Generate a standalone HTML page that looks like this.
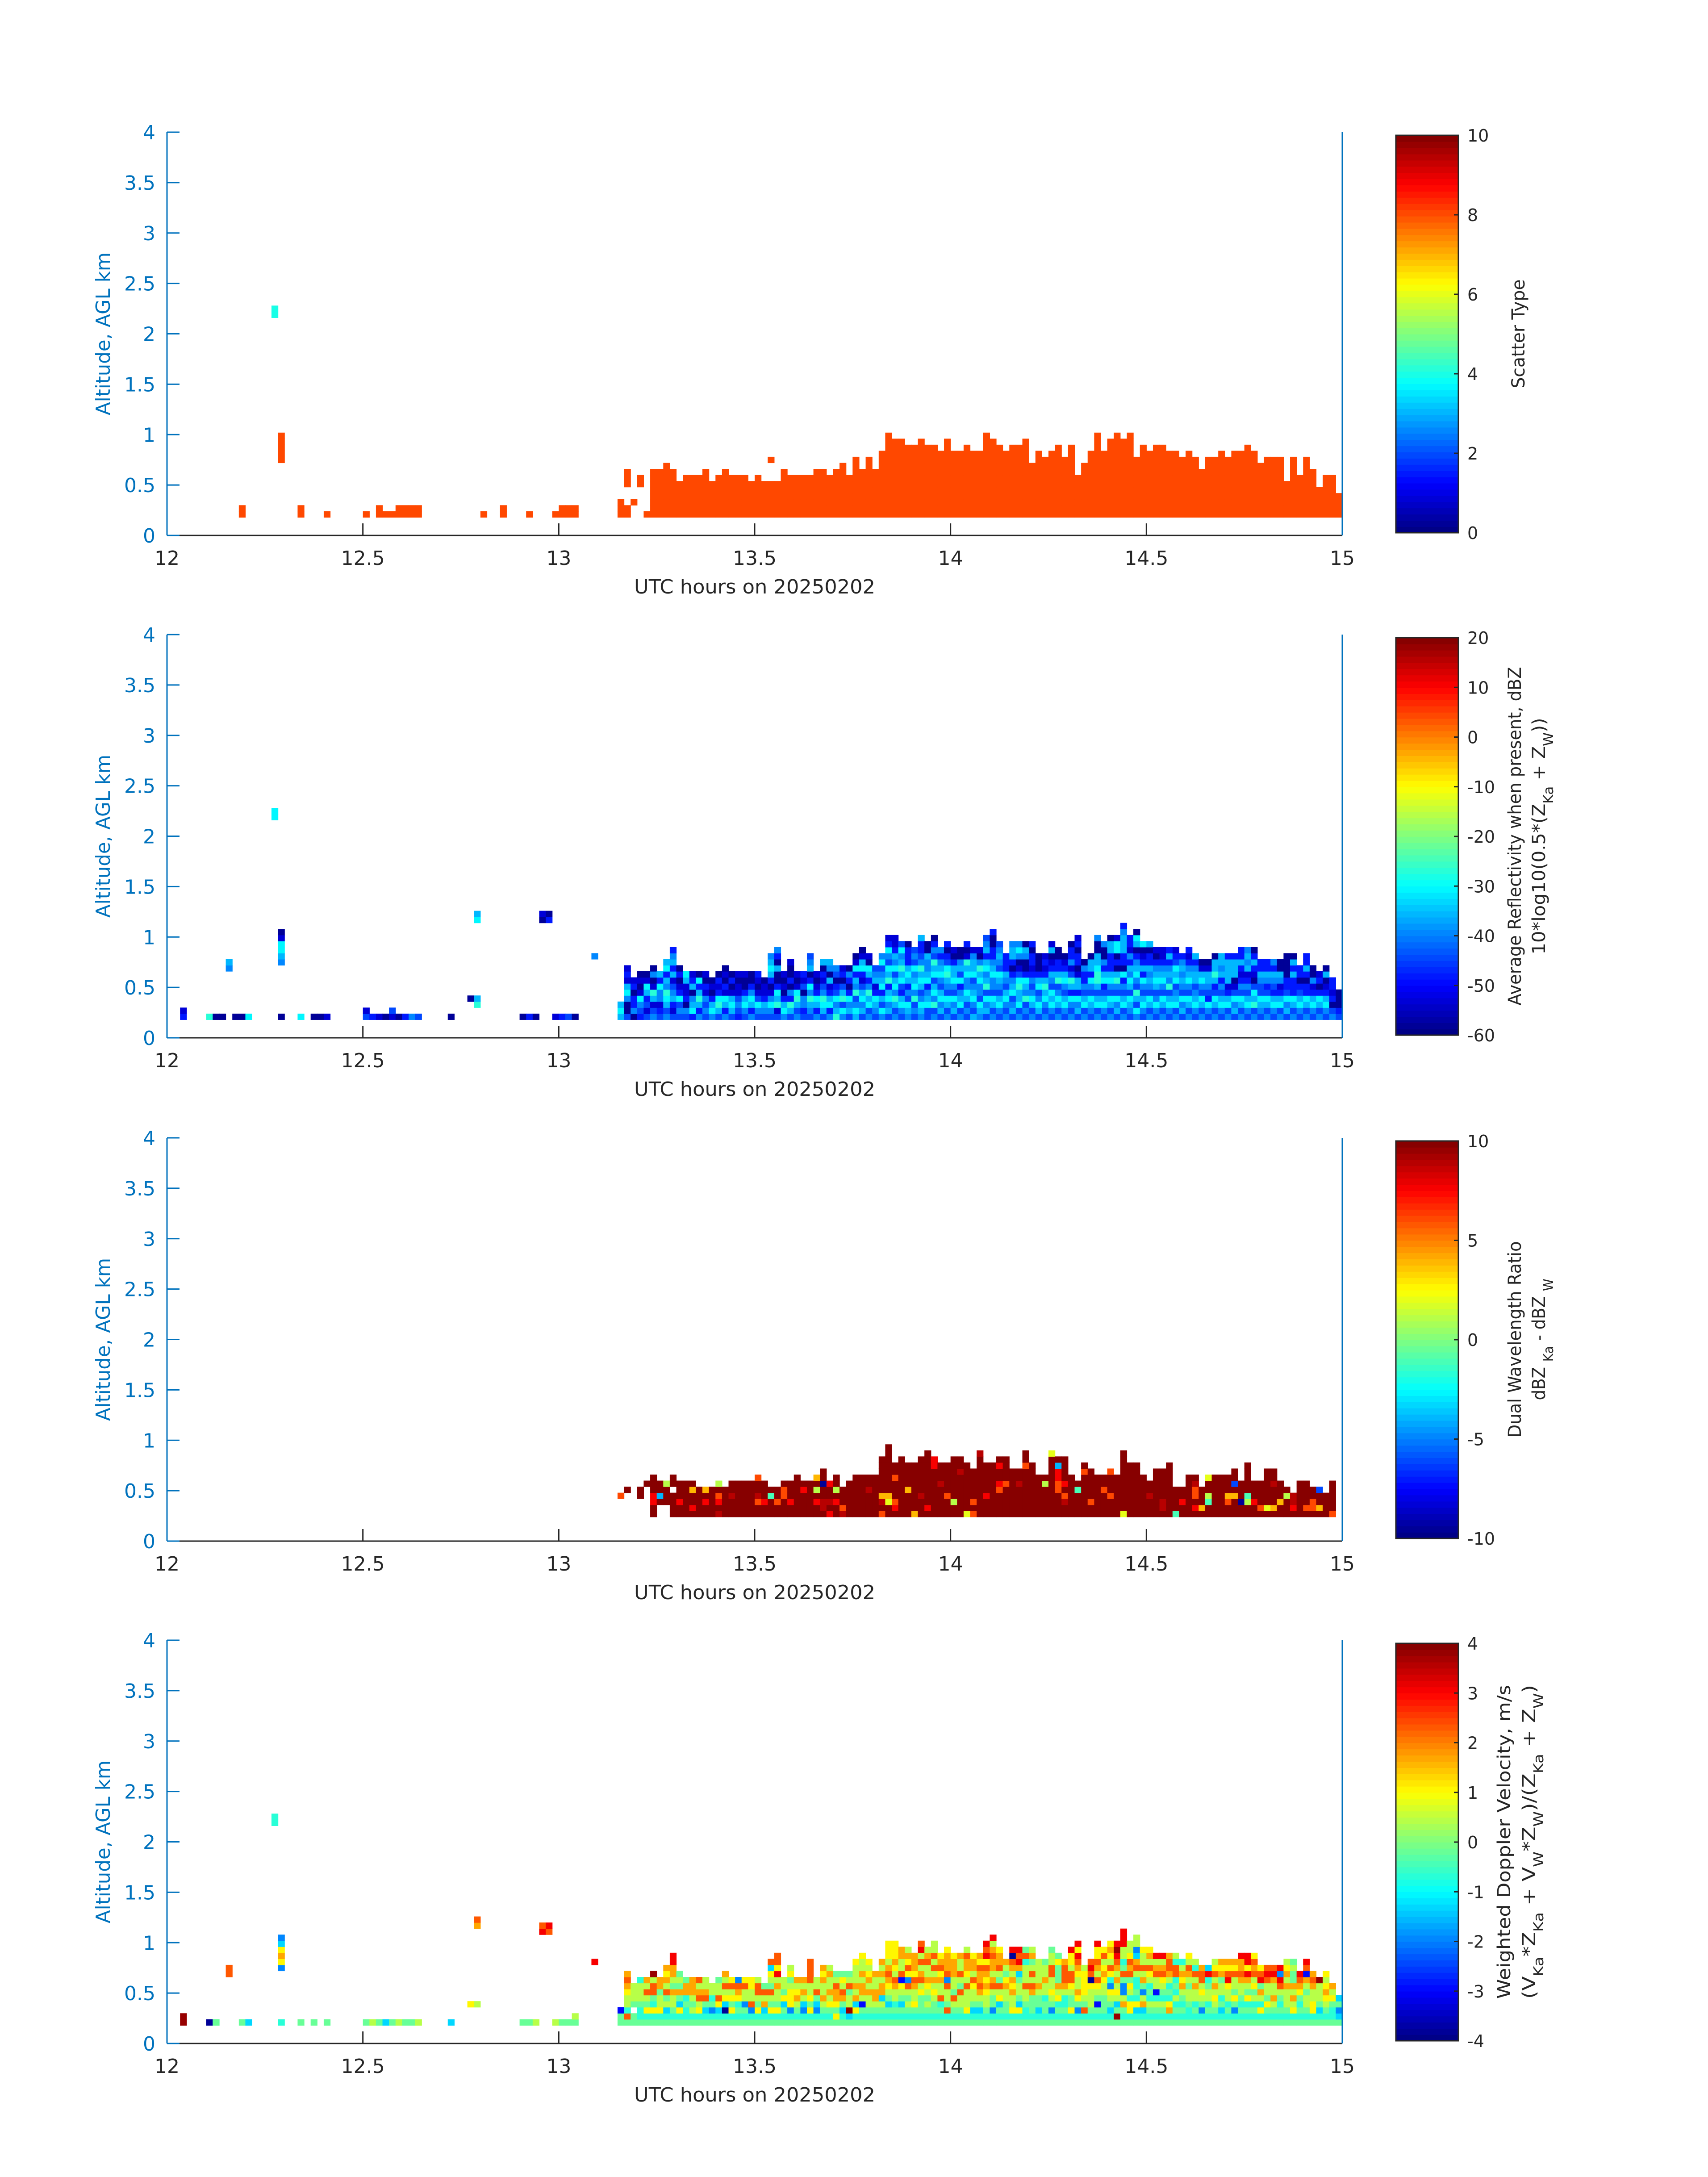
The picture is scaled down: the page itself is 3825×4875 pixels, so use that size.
<!DOCTYPE html>
<html><head><meta charset="utf-8"><title>Radar panels</title>
<style>html,body{margin:0;padding:0;background:#fff}svg{display:block}text{font-family:"DejaVu Sans","Liberation Sans",sans-serif}</style>
</head><body>
<svg id="fig" xmlns="http://www.w3.org/2000/svg" width="3825" height="4875" viewBox="0 0 3825 4875">
<rect width="3825" height="4875" fill="#fff"/>
</svg>
<script>
// ---------- data ----------
const xTicks = [12, 12.5, 13, 13.5, 14, 14.5, 15];
const xTickLabels = ["12", "12.5", "13", "13.5", "14", "14.5", "15"];
const yTicks = [0, 0.5, 1, 1.5, 2, 2.5, 3, 3.5, 4];
const yTickLabels = ["0", "0.5", "1", "1.5", "2", "2.5", "3", "3.5", "4"];
const binKm = 0.06;
const firstDenseMinute = 69;

// Panel 1: scatter type heights (bins above 0.18 km) for minutes 74..179
const heights1 = [8,8,9,8,6,7,7,7,8,6,7,8,7,7,7,6,7,6,6,6,8,7,7,7,7,8,8,7,8,9,7,10,8,10,8,11,14,13,13,12,12,13,12,12,11,13,11,11,12,11,11,14,13,12,11,12,12,13,9,11,10,11,12,10,12,7,9,11,14,11,13,14,13,14,10,12,11,12,12,11,11,10,11,10,8,10,10,11,10,11,11,12,11,9,10,10,10,6,10,7,10,8,5,7,7,4];
const heightsStart1 = 74;
const sparse1 = [[11,0,"oo"],[16,33,"cc"],[17,9,"ooooo"],[20,0,"oo"],[24,0,"o"],[30,0,"o"],[32,0,"oo"],[33,0,"o"],[34,0,"o"],[35,0,"oo"],[36,0,"oo"],[37,0,"oo"],[38,0,"oo"],[48,0,"o"],[51,0,"oo"],[55,0,"o"],[59,0,"o"],[60,0,"oo"],[61,0,"oo"],[62,0,"oo"],[69,0,"ooo"],[70,0,"oo...ooo"],[71,2,"o"],[72,5,"oo"],[73,0,"o"],[92,9,"o"]];
const codes1 = {o: 8, c: 4};

// Panel 2: reflectivity columns (minutes 69..179, bottom->top)
const cols2 = ("LcL BnnlcLdbd nlbbnbd bBlcdndn BdBbLcdn lBdLtdnln BbdllcbL lBLctlLbcL BdbLlBdLbLlb BlBcbdnbn BlnbddLc bcLlnLbd lbLtLbcn BlBldbnd lcLbndn BLtcbdbn lbLcdbndn BLcLdnbn bBlBddnd BlcLbnnd lbLclbnn BlcBdndb BlLbddn BlcldnbLcLl BdtLcbnnLnbl lcLbndnd BLtblnbnnd lBLtcdnd BbllnBdb BlLtlcbnLlB lbLcbdnd BLctlBdbnL lbcLbdLnlL tLlcBbnBl lcBtLBnbd BLlcbnbln LclBtlLbcdn BLlcLBdbcLdn lBcLtlbLcnd BlLcbdLlB lcBLbcLlBcl BLlcLbtLcBlcbd lBLtlcLBclLbdd BlcLbBcLtLlcB lLcBlbLcLbbbn BlBtlcLlcBlB lLclBLcLtlBbbL BBcLlbcLllLnn lBtlcLBcLtBlbn BLlcLBlcLlbl lBLcBlLtcBbnb BLlcBlcLLbnd lBcLlbcBLlnn BlBLcllcLtdnb LBlcLlBcLLld lLcBllcLtlnd BLlcBtLlcLbLlB lBLcBllcLlbbnnb BlcLBlLcBlLlB lBlcLBlLbbb BLlBcLlbnbLLl lBcLLtcBdnlcl BlBtlLcbnnlLn lBLclBlbdbbnb BLclBcLbnnn lBlcLtLbdbd BlcLcBlLbdnLd lBLclBtLbbnn BlcLBlcLbdn lBlcbLtBdlbbn BLlcbLLdnbbnbd lBcLBlbbln BlLcBlcbLLn lBcLBLttcLLnnl BlcLBbcLblnnl lBLcBlcLbbbLLn BLlcBltLnbnccd lBcLBlbcnbbLLLlb BlLcBLclLbldbb lcBLtBlcLlbnLcn BlcLBlcbLbdnc lBLcBlLlLbbnL BlclBLcLlbnd lBLcBlcLlbdd BlcLBtlLlbLb lBcLlBcLcBbd BLlcBlLlLlb lBLcBlcLlbdb BlcLlBLLlbL lBLcBlcLdn BlcbBlLLdn lBLcBbLtLLn BlcLBlbLlLL lBcLbdLLLLb BLlcBdnLLLb lBLcBlbdbLbb BlcLBlbdLlLl lBtLcBndbLbn BlLcBBlLbb lBLcBblLbb BlcLbBlLbl lBcLbdlLnn BLlcBbbnnnn lBLcbbbLbLn BlcLBbnbb lBLcbbnbLbb BlcLbdlnn lBLcbnbd BlcLbdnLn lBnbdbb Bbnnn").split(" ");
const sparse2 = [[2,0,"bd"],[6,0,"t"],[7,0,"n"],[8,0,"n"],[9,8,"lL"],[10,0,"n"],[11,0,"n"],[12,0,"c"],[16,33,"cc"],[17,0,"n"],[17,9,"lLccdn"],[20,0,"c"],[22,0,"n"],[23,0,"n"],[24,0,"d"],[30,0,"Bd"],[31,0,"b"],[32,0,"d"],[33,0,"n"],[34,0,"dB"],[35,0,"n"],[36,0,"b"],[37,0,"l"],[38,0,"B"],[43,0,"n"],[46,3,"n"],[47,2,"tL"],[47,16,"cL"],[54,0,"n"],[55,0,"b"],[56,0,"n"],[57,16,"nd"],[58,16,"bn"],[59,0,"d"],[60,0,"b"],[61,0,"B"],[62,0,"n"],[65,10,"l"]];
const codes2 = {n:-58, d:-53, b:-48, B:-44, l:-40, L:-36, c:-31, t:-27, g:-23};

// Panel 3: dual wavelength ratio columns (minutes 69..179, from 0.24 km)
const cols3 = ("...O ....D . ...DD .....D DDrrDDD ..DcDD ..DDDy DDDD.DD DDrDDD DDDDDD DrDDoD DDDDD DDrDo DDDDD dDrODy DDDDD DDDdDD DDDDDD DDDDDD DDDDDD DDOdDDO DDrDDD DDDgD DDODD DDDOOD DDrDDD DDDDDDD DDDDrD DDDDDD DDrDyDo DddDDNDD rDdDDr DDrDyDD dODDD DDDDDD DDDDDDD DDDDDDD DDDDdDD DDDDDDD ODdoDDDDDD DDYoDDDDDDDD DrODDDODD DDDDDDDDDD DDDDoDDDD oDDDDDDDD DDDdDDDDDD DrDDDDDDDDD DDDDDDDDrr DDDDDdDDD DDDODDDDD DDyDDDDDDD DDDDDDDdDD YDDDDDDDD ODODDDDD DDDDDDDDDDd DDDrDDDDD DDDDDDDDD DDDDOrDDrD DDDDDODDDD DDDDDDDD DDDDDdDD DDDDDDDDODD DDDDDDDDD DDDDDDD DDDDDyD DDDDDDDDDDY DDDDOOrrcD DDdODrDDDD DDDDDDD DDDDgD DDDDDDDOD DDODDDDD DDDDDDD DDDDODD DDDODDDO DDDDDDD YDDDDDDDDDD DDDDDDDDD DDDDDDDDD DDDDDDD DDDdDD DDDDDDDD DddDDDDD DDDDDDDDD gDDDD DDrDD DDDDDDD DrDOOdD DoDDD DDgyDDY DDDDDDD DDDDDDD DDOoDDD DDDoDLDD DDNDDD DDygDDDDD DDrDDD DODDDD DYDDDDDD DoDDDdDD DDoDDD DDDyD Drdd DDDDDD DODDDD DOODD DoDDL DDDD ODDDDD").split(" ");
const codes3 = {D:10, d:8.8, r:7.5, O:6, o:4, Y:2, y:1, g:-1, c:-4, L:-6, N:-9.5};

// Panel 4: weighted doppler velocity columns (minutes 69..179)
const cols4 = ("ggb gOtyyYoOo gg.gyyy gttgyyyt gtYgyOyo gtYtgOOyR gtYyygoo gtcygOyoYo gtgyyogyoorr gtYcgogyg gttgtoog gtygyooo gtYyOoyO gtcgOoyy gtlgtyy gtcYOyyg gtNcYyOyo gtYgYyOY gtgtYoOl gtglyyOY gtlOyyYY gtYgyOOy gtcoyOg gtYgyOgyYcO gtYgyyoyrYOO gtgcYgyy gtlYYYygYy gtgyoYyo gtlcyoyo gtYgYyyOOOO gtlcgOyy gtgyoyyoYo gtgYyoyyoy gYgYooOyg gtcgoOyYg gcRyygOyg gtYcoyoyyyY gtgbyooyoyyY gtgyyoyoYyY gtgyooyyo gtgycooyoyo gtgcgyYoOoyYYY gtgtyyoOyYoYYY gtgcgyYbOyyoo gtgygyOlYOYoy gtgYyyoOYooo gtgggYyOoyOyrO gtgygyYoyyOoy gtggyYyoyOyOyy gtgtOyyoYOoY gtOgyyOlOoooY gtgyOgyyoooY gtgyyOgyOyyo gtYyyyOyYooOy gtcgyyYOyooY gtcgyoOooOYo gtgyyYoYoOYrOr gtlggyOoyooOoyr gtgcYyOgyOooY gtggyyoYgyo gtYyyoYoyoONr gtYcgyygcorOr gttgyyOyyytOg gtgggoOyOygoy gtcggyoyyyy gtggtyyoyyg gtlgyYyyOOyyg gtgtYyogggYg gtgttyoOOOo gtYggyYOOyYYr gtlgYoyyYoOrYr gtOgyYYYYy gtgyyyYNOrO gtgbgyYOyoOYYr gtgggyyYoYyOY gtcgyYltYOyYoY gRgcyYyoyoOrRr gtgoyllgOgtyyrrr gtYYtyYgOoOYyy gtcYtgttyOoclyy gtcoylgoyOyyY gtgytgtyYOyoY gtgytbyyOoyr gtgytgyYOoyr gtoYtgtyoOOo gtgtytgtOOty gtgtgyoYoyt gttgyygyoOyY gtgtyyoyOty gtlgyYyOOo gtgtyygtrc gtgyYyoyOYy gtcgtyygoYo gtgtyyYrOYo gtlgYgyyOYo gtgtgyyoOoor gtgtYgyorYrr gtgtygYyOoOY gtYtyogrOY gtgYgyyOrO gtgyoyyorO gtgtgyOrlr gtgyyyoyoYy gtYyoyoggyg gtgtgYoOr gtgyygyobOr gtYYyyoOo gtcgyyyR gtgyYoYyY gttgYyo gclgc").split(" ");
const sparse4 = [[2,0,"RR"],[6,0,"N"],[7,0,"t"],[7,0,"g"],[9,8,"OO"],[11,0,"g"],[12,0,"c"],[16,33,"tt"],[17,0,"t"],[17,9,"lYoYcl"],[20,0,"g"],[22,0,"g"],[24,0,"g"],[30,0,"g"],[31,0,"y"],[32,0,"g"],[33,0,"c"],[34,0,"g"],[35,0,"y"],[36,0,"g"],[37,0,"g"],[38,0,"y"],[43,0,"c"],[46,3,"Y"],[47,3,"y"],[47,16,"oO"],[54,0,"g"],[55,0,"g"],[56,0,"y"],[57,15,"rO"],[58,15,"Or"],[59,0,"y"],[60,0,"g"],[61,0,"g"],[62,0,"gy"],[65,10,"r"]];
const codes4 = {N:-3.8, b:-3, l:-2, c:-1.3, t:-0.7, g:-0.2, y:0.4, Y:1, o:1.7, O:2.3, r:3, R:3.8};

const cbTicks1 = [0,2,4,6,8,10];
const cbTicks2 = [-60,-50,-40,-30,-20,-10,0,10,20];
const cbTicks3 = [-10,-5,0,5,10];
const cbTicks4 = [-4,-3,-2,-1,0,1,2,3,4];

// ---------- layout ----------
const NS = "http://www.w3.org/2000/svg";
const svg = document.getElementById("fig");
const X0 = 374, X1 = 3006, PH = 903;
const bottoms = [1199, 2324, 3451, 4576];
const xs = h => X0 + (h - 12) / 3 * (X1 - X0);
const ys = (p, km) => bottoms[p] - km / 4 * PH;
const BLUE = "#0072BD", DARK = "#262626";

function jet(t){
  let i = Math.floor(t * 64); if (i < 0) i = 0; if (i > 63) i = 63;
  const u = (i + 0.5) / 64;
  const c = v => Math.round(255 * Math.max(0, Math.min(1, v)));
  return "rgb(" + c(1.5 - Math.abs(4*u - 3)) + "," + c(1.5 - Math.abs(4*u - 2)) + "," + c(1.5 - Math.abs(4*u - 1)) + ")";
}
function mk(tag, attrs, parent){
  const e = document.createElementNS(NS, tag);
  for (const k in attrs) e.setAttribute(k, attrs[k]);
  (parent || svg).appendChild(e);
  return e;
}
function cell(g, p, minute, row, base, v, vmin, vmax){
  const x0 = xs(12 + minute / 60), x1 = xs(12 + (minute + 1) / 60);
  const yT = ys(p, base + (row + 1) * binKm), yB = ys(p, base + row * binKm);
  const r = mk("rect", {x: x0.toFixed(2), y: yT.toFixed(2), width: (x1 - x0 + 0.6).toFixed(2), height: (yB - yT + 0.6).toFixed(2), fill: jet((v - vmin) / (vmax - vmin))}, g);
  
  
}
function drawChunk(g, p, minute, row0, str, codes, base, vmin, vmax){
  for (let i = 0; i < str.length; i++){
    const ch = str[i];
    if (codes[ch] === undefined) continue;
    cell(g, p, minute, row0 + i, base, codes[ch], vmin, vmax);
  }
}

const panels = [
  {range:[0,10], ticks:cbTicks1, label:[["Scatter Type"]], labelX:[3400], len:[244]},
  {range:[-60,20], ticks:cbTicks2, label:[["Average Reflectivity when present, dBZ"],["10*log10(0.5*(Z","Ka"," + Z","W","))"]], labelX:[3392,3446], len:[758,530]},
  {range:[-10,10], ticks:cbTicks3, label:[["Dual Wavelength Ratio"],["dBZ ","Ka"," - dBZ ","W"]], labelX:[3392,3446], len:[440,272]},
  {range:[-4,4], ticks:cbTicks4, label:[["Weighted Doppler Velocity, m/s"],["(V","Ka","*Z","Ka"," + V","W","*Z","W",")/(Z","Ka"," + Z","W",")"]], labelX:[3368,3424], len:[703,703]}
];

panels.forEach((P, p) => {
  const B = bottoms[p], T = B - PH;
  const g = mk("g", {});
  
  
  const data = mk("g", {}, g);
  
  
  const [vmin, vmax] = P.range;
  if (p === 0){
    heights1.forEach((h, i) => drawChunk(data, 0, heightsStart1 + i, 0, "o".repeat(h), codes1, 0.18, vmin, vmax));
    sparse1.forEach(s => drawChunk(data, 0, s[0], s[1], s[2], codes1, 0.18, vmin, vmax));
  } else if (p === 1){
    cols2.forEach((s, i) => drawChunk(data, 1, firstDenseMinute + i, 0, s, codes2, 0.18, vmin, vmax));
    sparse2.forEach(s => drawChunk(data, 1, s[0], s[1], s[2], codes2, 0.18, vmin, vmax));
  } else if (p === 2){
    cols3.forEach((s, i) => drawChunk(data, 2, firstDenseMinute + i, 0, s, codes3, 0.24, vmin, vmax));
  } else {
    cols4.forEach((s, i) => drawChunk(data, 3, firstDenseMinute + i, 0, s, codes4, 0.18, vmin, vmax));
    sparse4.forEach(s => drawChunk(data, 3, s[0], s[1], s[2], codes4, 0.18, vmin, vmax));
  }
  const bl = mk("line", {x1:X0, y1:B, x2:X1, y2:B, stroke:DARK, "stroke-width":3}, g);
  
  
  const ll = mk("line", {x1:X0, y1:T, x2:X0, y2:B, stroke:BLUE, "stroke-width":3}, g);
  
  
  const rl = mk("line", {x1:X1, y1:T, x2:X1, y2:B, stroke:BLUE, "stroke-width":3}, g);
  
  
  yTicks.forEach((v, i) => {
    const y = ys(p, v);
    const tk = mk("line", {x1:X0, y1:y, x2:X0 + 28, y2:y, stroke:BLUE, "stroke-width":3}, g);
    
    
    const t = mk("text", {x:348, y:y + 16, "text-anchor":"end", "font-size":44, fill:BLUE}, g);
    t.textContent = yTickLabels[i];
    
    
  });
  xTicks.forEach((v, i) => {
    const x = xs(v);
    if (i > 0 && i < xTicks.length - 1){
      const tk = mk("line", {x1:x, y1:B, x2:x, y2:B - 27, stroke:DARK, "stroke-width":3}, g);
      
      
    }
    const t = mk("text", {x:x, y:B + 66, "text-anchor":"middle", "font-size":44, fill:DARK}, g);
    t.textContent = xTickLabels[i];
    
    
  });
  const xl = mk("text", {x:(X0 + X1) / 2, y:B + 130, "text-anchor":"middle", "font-size":44, fill:DARK, textLength:540, lengthAdjust:"spacingAndGlyphs"}, g);
  xl.textContent = "UTC hours on 20250202";
  
  
  const yl = mk("text", {x:0, y:0, "text-anchor":"middle", "font-size":44, fill:BLUE, textLength:365, lengthAdjust:"spacingAndGlyphs", transform:"translate(246," + (T + PH / 2) + ") rotate(-90)"}, g);
  yl.textContent = "Altitude, AGL km";
  
  
  const cbx = 3126, cbw = 140, cbT = T + 7, cbB = B - 6;
  const cb = mk("g", {}, g);
  
  
  for (let i = 0; i < 64; i++){
    const y1 = cbB - (i + 1) / 64 * (cbB - cbT), y0 = cbB - i / 64 * (cbB - cbT);
    const r = mk("rect", {x:cbx, y:y1.toFixed(2), width:cbw, height:(y0 - y1 + 0.8).toFixed(2), fill:jet((i + 0.5) / 64)}, cb);
    
    
  }
  const fr = mk("rect", {x:cbx, y:cbT, width:cbw, height:cbB - cbT, fill:"none", stroke:DARK, "stroke-width":3}, cb);
  
  
  P.ticks.forEach(v => {
    const y = cbB - (v - vmin) / (vmax - vmin) * (cbB - cbT);
    const tk = mk("line", {x1:cbx + cbw - 10, y1:y, x2:cbx + cbw, y2:y, stroke:DARK, "stroke-width":3}, cb);
    
    
    const t = mk("text", {x:3286, y:y + 14, "font-size":38, fill:DARK}, cb);
    t.textContent = String(v);
    
    
  });
  P.label.forEach((parts, li) => {
    const t = mk("text", {x:0, y:0, "text-anchor":"middle", "font-size":40, fill:DARK, textLength:P.len[li], lengthAdjust:"spacingAndGlyphs", transform:"translate(" + (P.labelX[li] + 14) + "," + (T + PH / 2) + ") rotate(-90)"}, cb);
    
    
    parts.forEach((s, k) => {
      const ts = mk("tspan", {}, t);
      const isSub = parts.length > 1 && k % 2 === 1;
      if (isSub){ ts.setAttribute("baseline-shift", "sub"); ts.setAttribute("font-size", "30"); }
      ts.textContent = s;
    });
  });
});
</script>
</body></html>
